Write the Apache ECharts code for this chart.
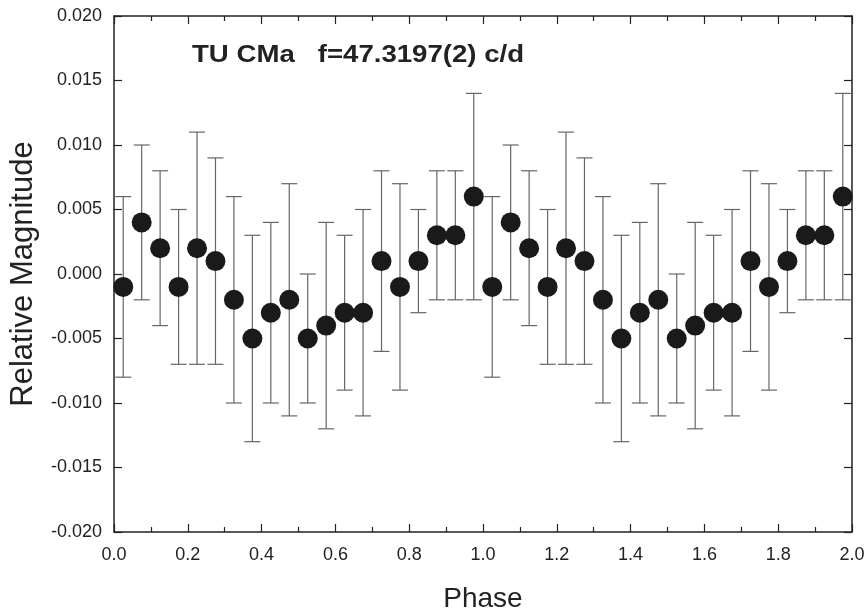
<!DOCTYPE html>
<html lang="en">
<head>
    <meta charset="utf-8">
    <title>TU CMa</title>
    <script src="https://cdn.jsdelivr.net/npm/echarts@6/dist/echarts.min.js"></script>
    <style>
        html, body { margin: 0; padding: 0; background: #fff; }
        #chart { width: 868px; height: 615px; }
    </style>
</head>
<body>
<div id="chart"></div>
<script type="text/javascript">
// phase bins (one cycle), shown twice
var phases = [0.025, 0.075, 0.125, 0.175, 0.225, 0.275, 0.325, 0.375, 0.425, 0.475,
              0.525, 0.575, 0.625, 0.675, 0.725, 0.775, 0.825, 0.875, 0.925, 0.975];
var mags = [-0.001, 0.004, 0.002, -0.001, 0.002, 0.001, -0.002, -0.005, -0.003, -0.002,
            -0.005, -0.004, -0.003, -0.003, 0.001, -0.001, 0.001, 0.003, 0.003, 0.006];
var errs = [0.007, 0.006, 0.006, 0.006, 0.009, 0.008, 0.008, 0.008, 0.007, 0.009,
            0.005, 0.008, 0.006, 0.008, 0.007, 0.008, 0.004, 0.005, 0.005, 0.008];
var xTicks = ['0.0', '0.2', '0.4', '0.6', '0.8', '1.0', '1.2', '1.4', '1.6', '1.8', '2.0'];

var pts = [];
for (var c = 0; c < 2; c++) {
    for (var i = 0; i < phases.length; i++) {
        pts.push([phases[i] + c, mags[i], errs[i]]);
    }
}

var font = '"Liberation Sans", Arial, sans-serif';
var ink = '#222';
var myChart = echarts.init(document.getElementById('chart'));

function frameAxis(extra) {
    var a = {
        type: 'value',
        axisLine: { show: true, onZero: false, lineStyle: { color: ink, width: 1.5 } },
        axisTick: { show: true, inside: true, length: 8, lineStyle: { color: ink, width: 1.2 } },
        splitLine: { show: false }
    };
    for (var k in extra) a[k] = extra[k];
    return a;
}

var option = {
    animation: false,
    backgroundColor: '#fff',
    grid: { left: 114, right: 16, top: 16, bottom: 83, containLabel: false, outerBoundsMode: 'none' },
    graphic: [{
        type: 'text', x: 192, y: 43, scaleX: 1.15,
        style: { text: 'TU CMa   f=47.3197(2) c/d', fontFamily: font, fontWeight: 'bold', fontSize: 24, fill: ink }
    }],
    xAxis: [frameAxis({
        min: 0, max: 2, interval: 0.2,
        name: 'Phase', nameLocation: 'middle', nameGap: 53,
        nameTextStyle: { fontFamily: font, fontSize: 28, color: ink },
        minorTick: { show: true, splitNumber: 2, length: 5, lineStyle: { color: ink, width: 1.2 } },
        axisLabel: { fontFamily: font, fontSize: 18, color: ink, margin: 14,
            formatter: function (v) { return xTicks[Math.round(v / 0.2)]; } }
    }), frameAxis({
        min: 0, max: 2, interval: 0.2, position: 'top',
        minorTick: { show: true, splitNumber: 2, length: 5, lineStyle: { color: ink, width: 1.2 } },
        axisLabel: { show: false }
    })],
    yAxis: [frameAxis({
        min: -0.02, max: 0.02, interval: 0.005,
        name: 'Relative Magnitude', nameLocation: 'middle', nameGap: 75,
        nameTextStyle: { fontFamily: font, fontSize: 31, color: ink },
        axisLabel: { fontFamily: font, fontSize: 18, color: ink, margin: 12,
            formatter: function (v) { return v.toFixed(3); } }
    }), frameAxis({
        min: -0.02, max: 0.02, interval: 0.005, position: 'right',
        axisLabel: { show: false }
    })],
    series: [{
        type: 'custom',
        xAxisIndex: 0, yAxisIndex: 0,
        data: pts,
        renderItem: function (params, api) {
            var x = api.value(0), y = api.value(1), e = api.value(2);
            var hi = api.coord([x, y + e]);
            var lo = api.coord([x, y - e]);
            var w = 8;
            var st = { stroke: '#666', lineWidth: 1.2 };
            return {
                type: 'group',
                children: [
                    { type: 'line', shape: { x1: hi[0], y1: hi[1], x2: lo[0], y2: lo[1] }, style: st },
                    { type: 'line', shape: { x1: hi[0] - w, y1: hi[1], x2: hi[0] + w, y2: hi[1] }, style: st },
                    { type: 'line', shape: { x1: lo[0] - w, y1: lo[1], x2: lo[0] + w, y2: lo[1] }, style: st }
                ]
            };
        },
        z: 2
    }, {
        type: 'scatter',
        xAxisIndex: 0, yAxisIndex: 0,
        data: pts,
        symbol: 'circle', symbolSize: 20,
        itemStyle: { color: '#1a1a1a', opacity: 1 },
        z: 3
    }]
};
myChart.setOption(option);
</script>
</body>
</html>
